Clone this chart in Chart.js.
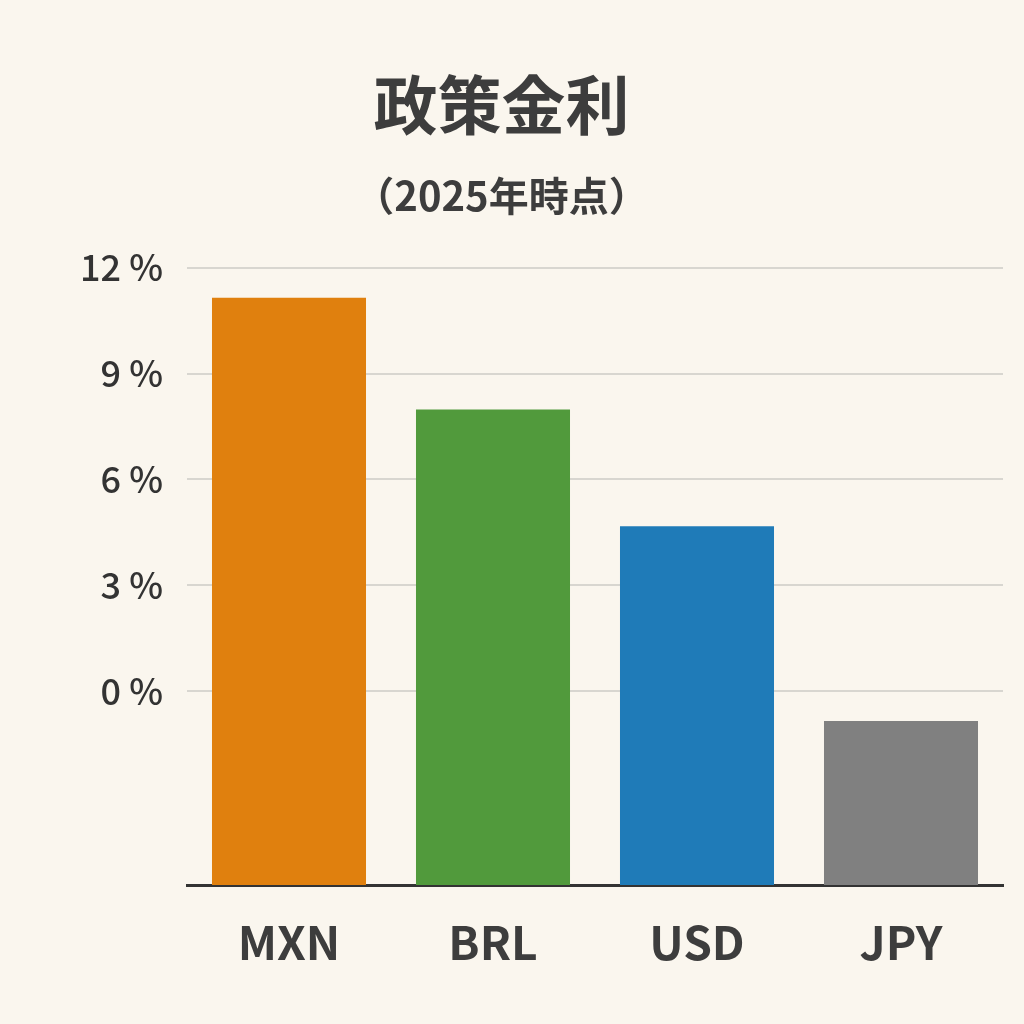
<!DOCTYPE html>
<html><head><meta charset="utf-8">
<script src="https://cdn.jsdelivr.net/npm/chart.js@4"></script>
<style>html,body{margin:0;background:#faf6ee;}#w{width:1024px;height:1024px;}</style>
</head><body><div id="w"><canvas id="c"></canvas></div>
<script>
const categories = ["MXN","BRL","USD","JPY"];
const rates = [11.15, 7.98, 4.67, -0.85];
const colors = ["#e0800e","#519a3c","#1f7bb8","#808080"];
const tickValues = [0,3,6,9,12];
const font = '"Noto Sans CJK JP","Noto Sans",sans-serif';
new Chart(document.getElementById('c'), {
  type: 'bar',
  data: { labels: categories, datasets: [{ data: rates, backgroundColor: colors, base: -5.5,
    barPercentage: 0.755, categoryPercentage: 1 }] },
  options: {
    responsive: true, maintainAspectRatio: false, animation: false,
    layout: { padding: { left: 0, right: 21, top: 0, bottom: 0 } },
    plugins: {
      legend: { display: false }, tooltip: { enabled: false },
      title: { display: true, text: '政策金利', color: '#3d3d3d',
        font: { family: font, size: 64, weight: 'bold' }, padding: { top: 66, bottom: 29 } },
      subtitle: { display: true, text: '（2025年時点）', color: '#3d3d3d',
        font: { family: font, size: 40, weight: 'bold' }, padding: { bottom: 48 } }
    },
    scales: {
      y: { min: -5.5, max: 12,
        afterBuildTicks: s => { s.ticks = tickValues.map(v => ({ value: v })); },
        afterFit: s => { s.width = 187; },
        border: { display: false },
        grid: { color: '#d8d6d0', lineWidth: 2, drawTicks: false },
        ticks: { color: '#333', padding: 24, font: { family: font, size: 36, weight: 500 },
          callback: v => v + ' %' } },
      x: { afterFit: s => { s.height = 139; },
        border: { display: true, color: '#333', width: 3 },
        grid: { display: false },
        ticks: { color: '#3d3d3d', padding: 22, font: { family: font, size: 46, weight: 'bold' } } }
    }
  }
});
</script></body></html>
